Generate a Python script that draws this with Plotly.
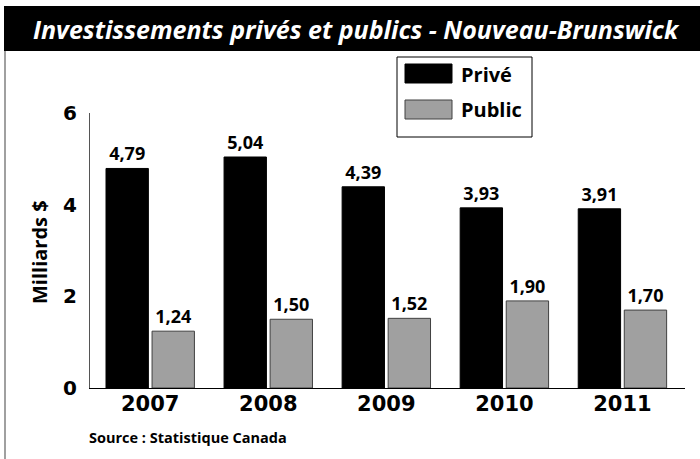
import plotly.graph_objects as go

years = ["2007", "2008", "2009", "2010", "2011"]
prive = [4.79, 5.04, 4.39, 3.93, 3.91]
public = [1.24, 1.50, 1.52, 1.90, 1.70]
series_names = ["Privé", "Public"]
y_ticks = [0, 2, 4, 6]

title_text = "Investissements privés et publics - Nouveau-Brunswick"
source_text = "Source : Statistique Canada"
y_title = "Milliards $"

label_font = dict(family="Open Sans", size=18, color="black", weight="bold")
tick_font = dict(family="DejaVu Sans", size=20, color="black", weight="bold")

fig = go.Figure()
fig.add_trace(go.Bar(
    x=years, y=prive, name=series_names[0],
    marker=dict(color="#000000", line=dict(color="#000000", width=1)),
    texttemplate="%{y:.2f}", textposition="outside", textfont=label_font,
    cliponaxis=False, showlegend=False,
))
fig.add_trace(go.Bar(
    x=years, y=public, name=series_names[1],
    marker=dict(color="#a0a0a0", line=dict(color="#404040", width=1)),
    texttemplate="%{y:.2f}", textposition="outside", textfont=label_font,
    cliponaxis=False, showlegend=False,
))

# pixel -> paper helpers (plot area 90..685 x 113..388)
def px(x):
    return (x - 90) / 595

def py(y):
    return (388 - y) / 275

shapes = [
    # title band
    dict(type="rect", xref="paper", yref="paper", x0=px(4), x1=px(702), y0=py(51), y1=py(6),
         fillcolor="black", line=dict(width=0), layer="below"),
    # left frame line
    dict(type="line", xref="paper", yref="paper", x0=px(5), x1=px(5), y0=py(51), y1=py(462),
         line=dict(color="#808080", width=1.5)),
    # legend box
    dict(type="rect", xref="paper", yref="paper", x0=px(397), x1=px(532), y0=py(137), y1=py(57),
         fillcolor="white", line=dict(color="black", width=1)),
    dict(type="rect", xref="paper", yref="paper", x0=px(405), x1=px(452), y0=py(83), y1=py(64),
         fillcolor="#000000", line=dict(color="#000000", width=1)),
    dict(type="rect", xref="paper", yref="paper", x0=px(405), x1=px(452), y0=py(119), y1=py(100),
         fillcolor="#a0a0a0", line=dict(color="#404040", width=1)),
]

annotations = [
    dict(text=title_text, xref="paper", yref="paper", x=px(356), y=py(29), showarrow=False,
         xanchor="center", yanchor="middle",
         font=dict(family="Open Sans", size=25, color="white", weight="bold", style="italic")),
    dict(text=series_names[0], xref="paper", yref="paper", x=px(459), y=py(74), showarrow=False,
         xanchor="left", yanchor="middle", font=dict(family="Open Sans", size=20, color="black", weight="bold")),
    dict(text=series_names[1], xref="paper", yref="paper", x=px(459), y=py(110), showarrow=False,
         xanchor="left", yanchor="middle", font=dict(family="Open Sans", size=20, color="black", weight="bold")),
    dict(text=source_text, xref="paper", yref="paper", x=px(87), y=py(437), showarrow=False,
         xanchor="left", yanchor="middle", font=dict(family="Open Sans", size=14.5, color="black", weight="bold")),
    dict(text=y_title, xref="paper", yref="paper", x=px(40), y=py(252), showarrow=False,
         xanchor="center", yanchor="middle", textangle=-90,
         font=dict(family="Open Sans", size=20, color="black", weight="bold")),
]

fig.update_layout(
    width=700, height=459,
    margin=dict(l=90, r=15, t=113, b=71),
    paper_bgcolor="white", plot_bgcolor="white",
    barmode="group", bargap=0.22, bargroupgap=0.08,
    separators=", ",
    shapes=shapes, annotations=annotations,
    showlegend=False,
)
fig.update_xaxes(
    range=[-0.51, 4.53], showline=True, linecolor="black", linewidth=1,
    showgrid=False, ticks="", tickfont=dict(tick_font, size=21), ticklabelstandoff=-3,
)
fig.update_yaxes(
    range=[0, 6], tickvals=y_ticks, showline=True, linecolor="#555555", linewidth=1,
    showgrid=False, zeroline=False, ticks="", tickfont=tick_font, ticklabelstandoff=8,
)

# page body has a default 8px margin; drop it so the figure sits at the window origin
fig.write_html("out.html", config={"displayModeBar": False},
               post_script="document.body.style.margin='0';")
